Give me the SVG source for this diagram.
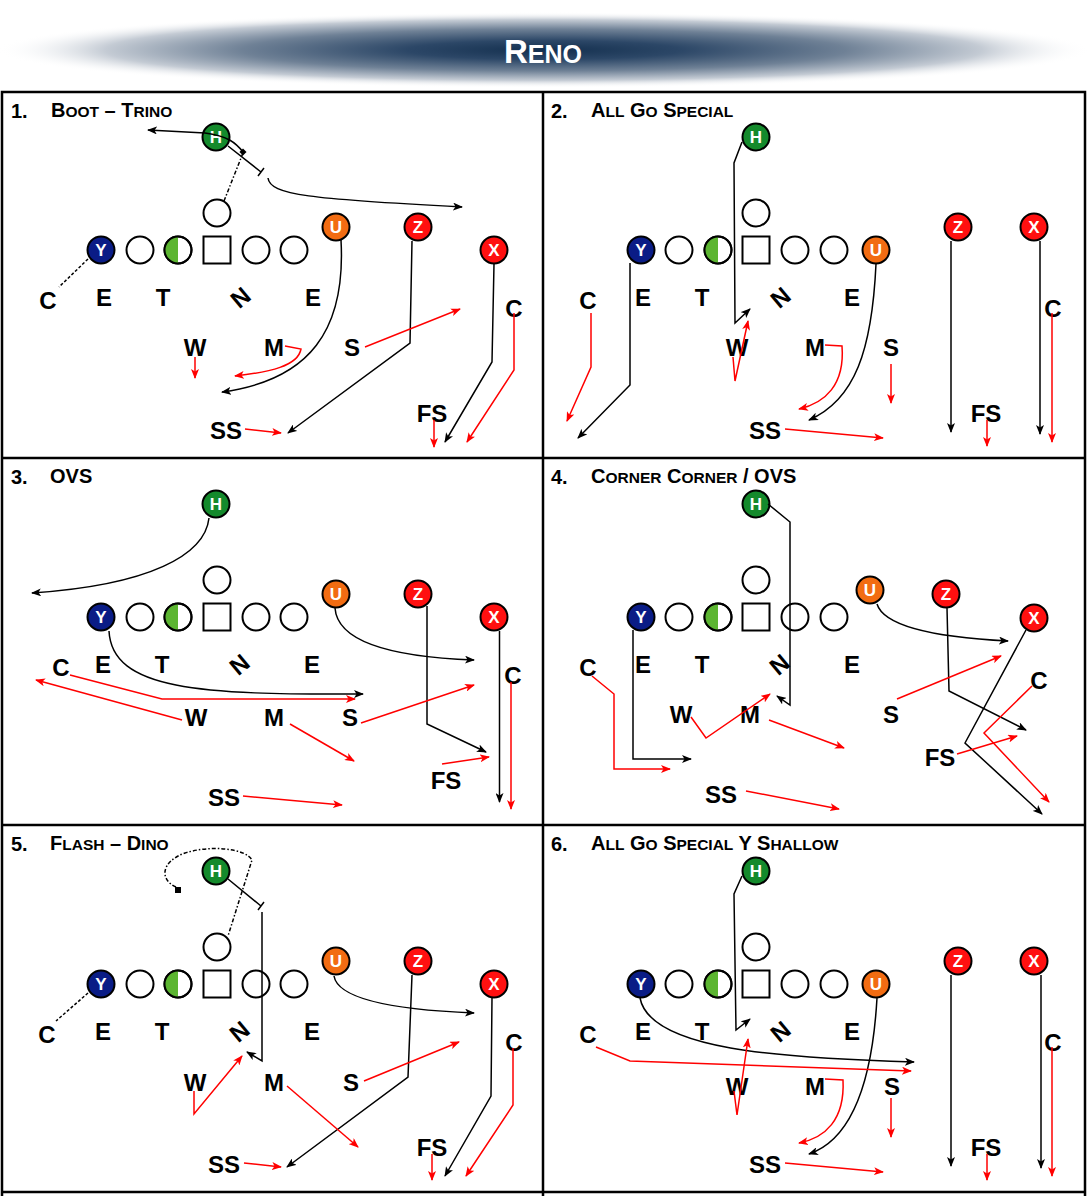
<svg xmlns="http://www.w3.org/2000/svg" width="1088" height="1196" viewBox="0 0 1088 1196">
<style>
text{font-family:"Liberation Sans",Arial,sans-serif;font-weight:bold}
.o{fill:#fff;stroke:#000;stroke-width:2}
.ol{fill:none;stroke:#000;stroke-width:2}
.g{fill:#5cb531}
.H{fill:#148a2c;stroke:#000;stroke-width:2}
.Y{fill:#0a1c86;stroke:#000;stroke-width:2}
.U{fill:#f26c12;stroke:#000;stroke-width:2}
.R{fill:#ff1010;stroke:#000;stroke-width:2}
.pt{fill:#fff;font-size:17px;text-anchor:middle}
.d{fill:#000;font-size:24px;text-anchor:middle}
.num{font-size:20px;fill:#000}
.ttl{font-size:20px;fill:#000}
.sc{font-size:15.5px}
.bl{fill:none;stroke:#000;stroke-width:1.5}
.rl{fill:none;stroke:#ff0000;stroke-width:1.5}
.ab{marker-end:url(#mb)}
.ar{marker-end:url(#mr)}
.dd{stroke-dasharray:4 2 1.5 2}
.ds{stroke-dasharray:3 2}
.fr{fill:none;stroke:#000;stroke-width:2.5}
</style>
<defs>
<radialGradient id="hg" cx="0.5" cy="0.5" r="0.5">
<stop offset="0" stop-color="#14304f"/>
<stop offset="0.25" stop-color="#2c4767"/>
<stop offset="0.55" stop-color="#6f8196"/>
<stop offset="0.8" stop-color="#c4cbd4"/>
<stop offset="1" stop-color="#ffffff" stop-opacity="0"/>
</radialGradient>
<marker id="mb" viewBox="0 0 10 8" refX="9" refY="4" markerWidth="10" markerHeight="8" markerUnits="userSpaceOnUse" orient="auto"><path d="M0,0 L10,4 L0,8 L2.5,4 z" fill="#000"/></marker>
<marker id="mr" viewBox="0 0 10 8" refX="9" refY="4" markerWidth="10" markerHeight="8" markerUnits="userSpaceOnUse" orient="auto"><path d="M0,0 L10,4 L0,8 L2.5,4 z" fill="#ff0000"/></marker>
</defs>

<g id="header">
<ellipse cx="544" cy="50" rx="548" ry="38" fill="url(#hg)"/>
<text x="543" y="63" text-anchor="middle" style="font-size:33px;fill:#fff">R<tspan style="font-size:25px">ENO</tspan></text>
</g>

<g id="frame">
<rect x="2" y="92" width="1083" height="1110" class="fr"/>
<line x1="2" y1="458" x2="1085" y2="458" class="fr"/>
<line x1="2" y1="825" x2="1085" y2="825" class="fr"/>
<line x1="2" y1="1192" x2="1085" y2="1192" class="fr"/>
<line x1="543" y1="92" x2="543" y2="1196" class="fr"/>
</g>

<g id="titles">
<text x="11" y="118" class="num">1.</text>
<text x="51" y="117" class="ttl">B<tspan class="sc">OOT</tspan> – T<tspan class="sc">RINO</tspan></text>
<text x="551" y="118" class="num">2.</text>
<text x="591" y="117" class="ttl">A<tspan class="sc">LL</tspan> G<tspan class="sc">O</tspan> S<tspan class="sc">PECIAL</tspan></text>
<text x="11" y="484" class="num">3.</text>
<text x="50" y="483" class="ttl">OVS</text>
<text x="551" y="484" class="num">4.</text>
<text x="591" y="483" class="ttl">C<tspan class="sc">ORNER</tspan> C<tspan class="sc">ORNER</tspan> / OVS</text>
<text x="11" y="851" class="num">5.</text>
<text x="50" y="850" class="ttl">F<tspan class="sc">LASH</tspan> – D<tspan class="sc">INO</tspan></text>
<text x="551" y="851" class="num">6.</text>
<text x="591" y="850" class="ttl">A<tspan class="sc">LL</tspan> G<tspan class="sc">O</tspan> S<tspan class="sc">PECIAL</tspan> Y S<tspan class="sc">HALLOW</tspan></text>
</g>

<!-- PANEL 1 -->
<g id="panel1-nodes">
<g id="p1-H"><circle cx="216" cy="137" r="13.5" class="H"/><text x="216" y="143" class="pt">H</text></g>
<g id="p1-QB"><circle cx="217" cy="213" r="13.5" class="o"/></g>
<g id="p1-Y"><circle cx="101" cy="250" r="13.5" class="Y"/><text x="101" y="256" class="pt">Y</text></g>
<g id="p1-LT"><circle cx="140" cy="250" r="13.5" class="o"/></g>
<g id="p1-LG"><circle cx="178" cy="250" r="13.5" class="o"/><path d="M178,236.5 A13.5,13.5 0 0 0 178,263.5 Z" class="g"/><circle cx="178" cy="250" r="13.5" class="ol"/></g>
<g id="p1-C"><rect x="203.5" y="236.5" width="27" height="27" class="o"/></g>
<g id="p1-RG"><circle cx="256" cy="250" r="13.5" class="o"/></g>
<g id="p1-RT"><circle cx="294" cy="250" r="13.5" class="o"/></g>
<g id="p1-U"><circle cx="336" cy="227" r="13.5" class="U"/><text x="336" y="233" class="pt">U</text></g>
<g id="p1-Z"><circle cx="418" cy="227" r="13.5" class="R"/><text x="418" y="233" class="pt">Z</text></g>
<g id="p1-X"><circle cx="494" cy="250" r="13.5" class="R"/><text x="494" y="256" class="pt">X</text></g>
<g id="p1-defense">
<text x="48" y="309" class="d">C</text><text x="104" y="306" class="d">E</text><text x="163" y="306" class="d">T</text>
<text x="240" y="306" class="d" transform="rotate(-40 240 297)">N</text><text x="313" y="306" class="d">E</text>
<text x="195" y="356" class="d">W</text><text x="274" y="356" class="d">M</text><text x="352" y="356" class="d">S</text>
<text x="226" y="439" class="d">SS</text><text x="432" y="422" class="d">FS</text><text x="514" y="317" class="d">C</text>
</g>
</g>

<!-- PANEL 2 -->
<g id="panel2-nodes">
<g id="p2-H"><circle cx="756" cy="137" r="13.5" class="H"/><text x="756" y="143" class="pt">H</text></g>
<g id="p2-QB"><circle cx="756" cy="213" r="13.5" class="o"/></g>
<g id="p2-Y"><circle cx="641" cy="250" r="13.5" class="Y"/><text x="641" y="256" class="pt">Y</text></g>
<g id="p2-LT"><circle cx="679" cy="250" r="13.5" class="o"/></g>
<g id="p2-LG"><circle cx="718" cy="250" r="13.5" class="o"/><path d="M718,236.5 A13.5,13.5 0 0 0 718,263.5 Z" class="g"/><circle cx="718" cy="250" r="13.5" class="ol"/></g>
<g id="p2-C"><rect x="742.5" y="236.5" width="27" height="27" class="o"/></g>
<g id="p2-RG"><circle cx="795" cy="250" r="13.5" class="o"/></g>
<g id="p2-RT"><circle cx="834" cy="250" r="13.5" class="o"/></g>
<g id="p2-U"><circle cx="876" cy="250" r="13.5" class="U"/><text x="876" y="256" class="pt">U</text></g>
<g id="p2-Z"><circle cx="958" cy="227" r="13.5" class="R"/><text x="958" y="233" class="pt">Z</text></g>
<g id="p2-X"><circle cx="1034" cy="227" r="13.5" class="R"/><text x="1034" y="233" class="pt">X</text></g>
<g id="p2-defense">
<text x="588" y="309" class="d">C</text><text x="643" y="306" class="d">E</text><text x="702" y="306" class="d">T</text>
<text x="780" y="306" class="d" transform="rotate(-40 780 297)">N</text><text x="852" y="306" class="d">E</text>
<text x="737" y="356" class="d">W</text><text x="815" y="356" class="d">M</text><text x="891" y="356" class="d">S</text>
<text x="765" y="439" class="d">SS</text><text x="986" y="422" class="d">FS</text><text x="1053" y="317" class="d">C</text>
</g>
</g>

<!-- PANEL 3 -->
<g id="panel3-nodes">
<g id="p3-H"><circle cx="216" cy="504" r="13.5" class="H"/><text x="216" y="510" class="pt">H</text></g>
<g id="p3-QB"><circle cx="217" cy="580" r="13.5" class="o"/></g>
<g id="p3-Y"><circle cx="101" cy="617" r="13.5" class="Y"/><text x="101" y="623" class="pt">Y</text></g>
<g id="p3-LT"><circle cx="140" cy="617" r="13.5" class="o"/></g>
<g id="p3-LG"><circle cx="178" cy="617" r="13.5" class="o"/><path d="M178,603.5 A13.5,13.5 0 0 0 178,630.5 Z" class="g"/><circle cx="178" cy="617" r="13.5" class="ol"/></g>
<g id="p3-C"><rect x="203.5" y="603.5" width="27" height="27" class="o"/></g>
<g id="p3-RG"><circle cx="256" cy="617" r="13.5" class="o"/></g>
<g id="p3-RT"><circle cx="294" cy="617" r="13.5" class="o"/></g>
<g id="p3-U"><circle cx="336" cy="594" r="13.5" class="U"/><text x="336" y="600" class="pt">U</text></g>
<g id="p3-Z"><circle cx="418" cy="594" r="13.5" class="R"/><text x="418" y="600" class="pt">Z</text></g>
<g id="p3-X"><circle cx="494" cy="617" r="13.5" class="R"/><text x="494" y="623" class="pt">X</text></g>
<g id="p3-defense">
<text x="61" y="676" class="d">C</text><text x="103" y="673" class="d">E</text><text x="162" y="673" class="d">T</text>
<text x="239" y="673" class="d" transform="rotate(-40 239 664)">N</text><text x="312" y="673" class="d">E</text>
<text x="196" y="726" class="d">W</text><text x="274" y="726" class="d">M</text><text x="350" y="726" class="d">S</text>
<text x="224" y="806" class="d">SS</text><text x="446" y="789" class="d">FS</text><text x="513" y="684" class="d">C</text>
</g>
</g>

<!-- PANEL 4 -->
<g id="panel4-nodes">
<g id="p4-H"><circle cx="756" cy="504" r="13.5" class="H"/><text x="756" y="510" class="pt">H</text></g>
<g id="p4-QB"><circle cx="756" cy="580" r="13.5" class="o"/></g>
<g id="p4-Y"><circle cx="641" cy="617" r="13.5" class="Y"/><text x="641" y="623" class="pt">Y</text></g>
<g id="p4-LT"><circle cx="679" cy="617" r="13.5" class="o"/></g>
<g id="p4-LG"><circle cx="718" cy="617" r="13.5" class="o"/><path d="M718,603.5 A13.5,13.5 0 0 0 718,630.5 Z" class="g"/><circle cx="718" cy="617" r="13.5" class="ol"/></g>
<g id="p4-C"><rect x="742.5" y="603.5" width="27" height="27" class="o"/></g>
<g id="p4-RG"><circle cx="795" cy="617" r="13.5" class="o"/></g>
<g id="p4-RT"><circle cx="834" cy="617" r="13.5" class="o"/></g>
<g id="p4-U"><circle cx="870" cy="590" r="13.5" class="U"/><text x="870" y="596" class="pt">U</text></g>
<g id="p4-Z"><circle cx="946" cy="594" r="13.5" class="R"/><text x="946" y="600" class="pt">Z</text></g>
<g id="p4-X"><circle cx="1034" cy="618" r="13.5" class="R"/><text x="1034" y="624" class="pt">X</text></g>
<g id="p4-defense">
<text x="588" y="676" class="d">C</text><text x="643" y="673" class="d">E</text><text x="702" y="673" class="d">T</text>
<text x="779" y="673" class="d" transform="rotate(-40 779 664)">N</text><text x="852" y="673" class="d">E</text>
<text x="681" y="723" class="d">W</text><text x="750" y="723" class="d">M</text><text x="891" y="723" class="d">S</text>
<text x="721" y="803" class="d">SS</text><text x="940" y="766" class="d">FS</text><text x="1039" y="689" class="d">C</text>
</g>
</g>

<!-- PANEL 5 -->
<g id="panel5-nodes">
<g id="p5-H"><circle cx="216" cy="871" r="13.5" class="H"/><text x="216" y="877" class="pt">H</text></g>
<g id="p5-QB"><circle cx="217" cy="947" r="13.5" class="o"/></g>
<g id="p5-Y"><circle cx="101" cy="984" r="13.5" class="Y"/><text x="101" y="990" class="pt">Y</text></g>
<g id="p5-LT"><circle cx="140" cy="984" r="13.5" class="o"/></g>
<g id="p5-LG"><circle cx="178" cy="984" r="13.5" class="o"/><path d="M178,970.5 A13.5,13.5 0 0 0 178,997.5 Z" class="g"/><circle cx="178" cy="984" r="13.5" class="ol"/></g>
<g id="p5-C"><rect x="203.5" y="970.5" width="27" height="27" class="o"/></g>
<g id="p5-RG"><circle cx="256" cy="984" r="13.5" class="o"/></g>
<g id="p5-RT"><circle cx="294" cy="984" r="13.5" class="o"/></g>
<g id="p5-U"><circle cx="336" cy="961" r="13.5" class="U"/><text x="336" y="967" class="pt">U</text></g>
<g id="p5-Z"><circle cx="418" cy="961" r="13.5" class="R"/><text x="418" y="967" class="pt">Z</text></g>
<g id="p5-X"><circle cx="494" cy="984" r="13.5" class="R"/><text x="494" y="990" class="pt">X</text></g>
<g id="p5-defense">
<text x="47" y="1043" class="d">C</text><text x="103" y="1040" class="d">E</text><text x="162" y="1040" class="d">T</text>
<text x="239" y="1040" class="d" transform="rotate(-40 239 1031)">N</text><text x="312" y="1040" class="d">E</text>
<text x="195" y="1091" class="d">W</text><text x="274" y="1091" class="d">M</text><text x="351" y="1091" class="d">S</text>
<text x="224" y="1173" class="d">SS</text><text x="432" y="1156" class="d">FS</text><text x="514" y="1051" class="d">C</text>
</g>
</g>

<!-- PANEL 6 -->
<g id="panel6-nodes">
<g id="p6-H"><circle cx="756" cy="871" r="13.5" class="H"/><text x="756" y="877" class="pt">H</text></g>
<g id="p6-QB"><circle cx="756" cy="947" r="13.5" class="o"/></g>
<g id="p6-Y"><circle cx="641" cy="984" r="13.5" class="Y"/><text x="641" y="990" class="pt">Y</text></g>
<g id="p6-LT"><circle cx="679" cy="984" r="13.5" class="o"/></g>
<g id="p6-LG"><circle cx="718" cy="984" r="13.5" class="o"/><path d="M718,970.5 A13.5,13.5 0 0 0 718,997.5 Z" class="g"/><circle cx="718" cy="984" r="13.5" class="ol"/></g>
<g id="p6-C"><rect x="742.5" y="970.5" width="27" height="27" class="o"/></g>
<g id="p6-RG"><circle cx="795" cy="984" r="13.5" class="o"/></g>
<g id="p6-RT"><circle cx="834" cy="984" r="13.5" class="o"/></g>
<g id="p6-U"><circle cx="876" cy="984" r="13.5" class="U"/><text x="876" y="990" class="pt">U</text></g>
<g id="p6-Z"><circle cx="958" cy="961" r="13.5" class="R"/><text x="958" y="967" class="pt">Z</text></g>
<g id="p6-X"><circle cx="1034" cy="961" r="13.5" class="R"/><text x="1034" y="967" class="pt">X</text></g>
<g id="p6-defense">
<text x="588" y="1043" class="d">C</text><text x="643" y="1040" class="d">E</text><text x="702" y="1040" class="d">T</text>
<text x="780" y="1040" class="d" transform="rotate(-40 780 1031)">N</text><text x="852" y="1040" class="d">E</text>
<text x="737" y="1095" class="d">W</text><text x="815" y="1095" class="d">M</text><text x="892" y="1095" class="d">S</text>
<text x="765" y="1173" class="d">SS</text><text x="986" y="1156" class="d">FS</text><text x="1053" y="1051" class="d">C</text>
</g>
</g>

<g id="connectors">
<!-- panel 1 -->
<path d="M243,152 C236,143 228,136 205,133 L148,130" class="bl ab"/>
<path d="M228,146 L261,172 M264,168 L258,176" class="bl"/>
<rect x="240.5" y="149.5" width="5" height="5" transform="rotate(45 243 152)" fill="#000"/>
<path d="M224,201 L243,153" class="bl dd"/>
<path d="M268,178 C270,195 310,199 462,207" class="bl ab"/>
<path d="M88,259 L59,287" class="bl ds"/>
<path d="M341,240 C346,330 310,380 222,392" class="bl ab"/>
<path d="M412,241 L410,343 L288,433" class="bl ab"/>
<path d="M494,264 L492,362 L445,442" class="bl ab"/>
<path d="M195,357 L195,378" class="rl ar"/>
<path d="M285,346 L301,349 C298,366 270,372 235,376" class="rl ar"/>
<path d="M365,347 L460,309" class="rl ar"/>
<path d="M245,429 L281,433" class="rl ar"/>
<path d="M514,313 L514,370 L467,442" class="rl ar"/>
<path d="M434,420 L434,447" class="rl ar"/>
<!-- panel 2 -->
<path d="M742,142 L734,163 L735,323 L750,309" class="bl ab"/>
<path d="M630,263 L630,385 L578,438" class="bl ab"/>
<path d="M876,264 C872,350 855,400 809,420" class="bl ab"/>
<path d="M951,241 L951,432" class="bl ab"/>
<path d="M1040,241 L1040,434" class="bl ab"/>
<path d="M733,357 L735,381 L748,321" class="rl ar"/>
<path d="M591,313 L591,367 L567,421" class="rl ar"/>
<path d="M825,345 L842,346 C845,385 825,403 799,409" class="rl ar"/>
<path d="M891,364 L891,403" class="rl ar"/>
<path d="M785,429 L883,438" class="rl ar"/>
<path d="M987,420 L987,446" class="rl ar"/>
<path d="M1052,313 L1052,442" class="rl ar"/>
<!-- panel 3 -->
<path d="M209,518 C205,555 150,585 32,593" class="bl ab"/>
<path d="M109,631 C112,690 200,695 363,694" class="bl ab"/>
<path d="M335,608 C338,650 420,658 474,660" class="bl ab"/>
<path d="M427,606 L427,724 L486,752" class="bl ab"/>
<path d="M499.5,631 L499.5,802" class="bl ab"/>
<path d="M70,675 L162,699 L355,699" class="rl ar"/>
<path d="M182,720 L36,680" class="rl ar"/>
<path d="M361,723 L474,685" class="rl ar"/>
<path d="M290,724 L354,761" class="rl ar"/>
<path d="M442,764 L489,757" class="rl ar"/>
<path d="M243,796 L342,805" class="rl ar"/>
<path d="M511,682 L511,809" class="rl ar"/>
<!-- panel 4 -->
<path d="M768,504 L790,522 L790,705 L777,696" class="bl ab"/>
<path d="M633,630 L633,759 L691,759" class="bl ab"/>
<path d="M877,604 C885,630 950,638 1008,641" class="bl ab"/>
<path d="M947,608 L949,691 L1026,730" class="bl ab"/>
<path d="M1026,630 L965,743 L1042,814" class="bl ab"/>
<path d="M592,676 L614,694 L614,769 L670,769" class="rl ar"/>
<path d="M691,717 L706,738 L770,694" class="rl ar"/>
<path d="M769,720 L844,748" class="rl ar"/>
<path d="M746,791 L839,809" class="rl ar"/>
<path d="M897,699 L1001,656" class="rl ar"/>
<path d="M1032,686 L984,733 L1049,802" class="rl ar"/>
<path d="M957,754 L1017,736" class="rl ar"/>
<!-- panel 5 -->
<path d="M176,887 C160,880 160,862 185,853 C210,845 245,848 252,860 L228,936" class="bl dd"/>
<rect x="175" y="887" width="6" height="6" fill="#000"/>
<path d="M228,879 L261,906 M264,902 L258,910" class="bl"/>
<path d="M262,912 L262,1061 L247,1052" class="bl ab"/>
<path d="M412,975 L408,1077 L287,1167" class="bl ab"/>
<path d="M334,976 C338,1000 400,1010 474,1013" class="bl ab"/>
<path d="M492,998 L491,1096 L445,1176" class="bl ab"/>
<path d="M88,993 L56,1021" class="bl ds"/>
<path d="M194,1091 L194,1114 L242,1056" class="rl ar"/>
<path d="M287,1086 L358,1147" class="rl ar"/>
<path d="M364,1081 L459,1042" class="rl ar"/>
<path d="M244,1163 L281,1167" class="rl ar"/>
<path d="M513,1048 L513,1105 L466,1176" class="rl ar"/>
<path d="M432,1154 L432,1180" class="rl ar"/>
<!-- panel 6 -->
<path d="M742,876 L734,894 L736,1030 L750,1019" class="bl ab"/>
<path d="M640,998 C650,1050 780,1058 914,1062" class="bl ab"/>
<path d="M877,998 C872,1085 850,1140 809,1154" class="bl ab"/>
<path d="M951,975 L951,1166" class="bl ab"/>
<path d="M1041,975 L1041,1168" class="bl ab"/>
<path d="M596,1047 L630,1061 L911,1071" class="rl ar"/>
<path d="M734,1091 L737,1115 L748,1039" class="rl ar"/>
<path d="M825,1079 L843,1080 C845,1120 825,1138 799,1143" class="rl ar"/>
<path d="M891,1098 L891,1137" class="rl ar"/>
<path d="M785,1163 L883,1172" class="rl ar"/>
<path d="M987,1154 L987,1180" class="rl ar"/>
<path d="M1052,1047 L1052,1176" class="rl ar"/>
</g>
</svg>
